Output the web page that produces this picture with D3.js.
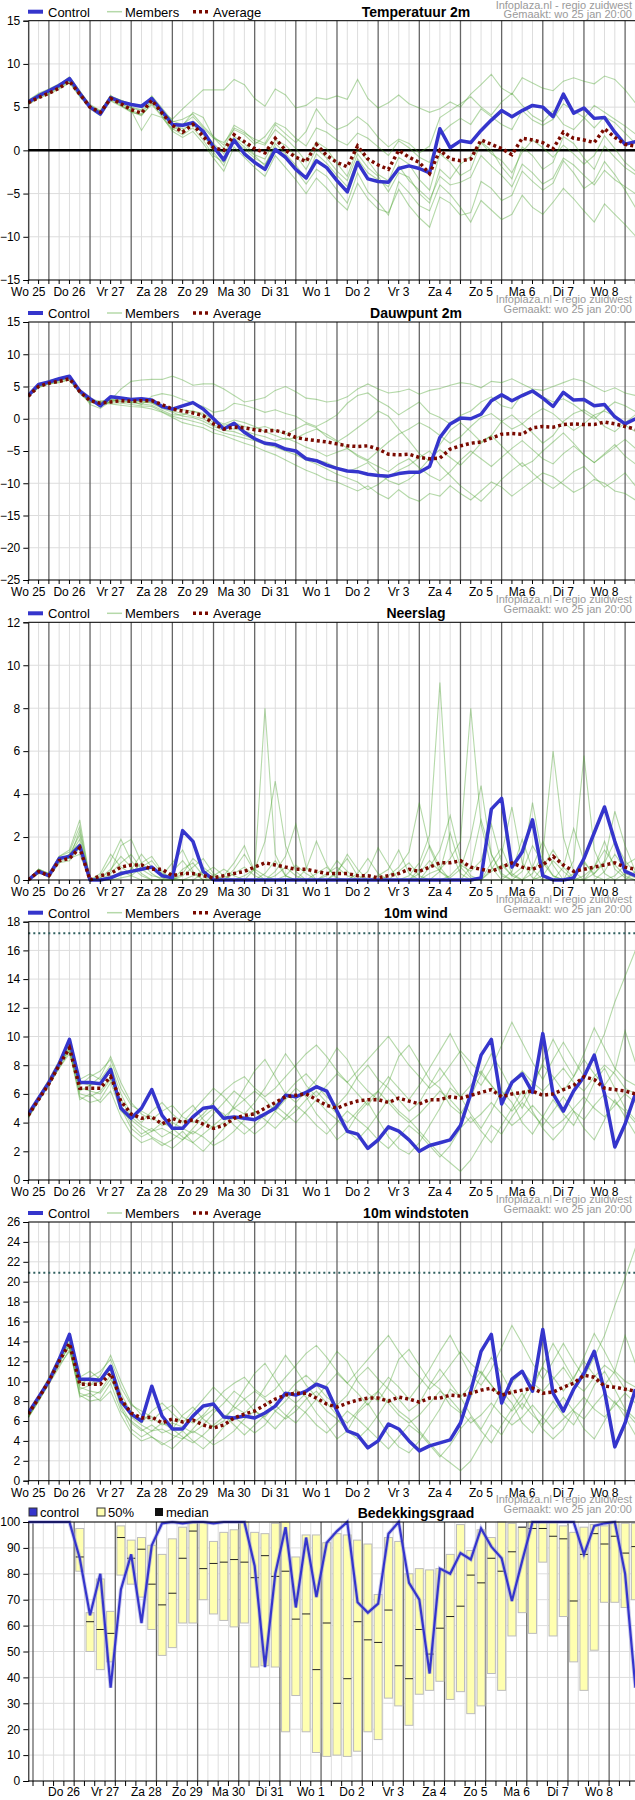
<!DOCTYPE html>
<html>
<head>
<meta charset="utf-8">
<script src="https://cdn.jsdelivr.net/npm/d3@7"></script>
<style>
  body { margin: 0; background: #fff; }
  svg { display: block; font-family: "Liberation Sans", Arial, sans-serif; }
</style>
</head>
<body>
<div id="chart"></div>
<script>
// day labels
const dayLabels = ["Wo 25", "Do 26", "Vr 27", "Za 28", "Zo 29", "Ma 30", "Di 31", "Wo 1", "Do 2", "Vr 3", "Za 4", "Zo 5", "Ma 6", "Di 7", "Wo 8"];

/* Temperatuur 2m */
const tempControl = [5.6,6.3,6.9,7.5,8.3,6.6,5.0,4.2,6.1,5.6,5.3,5.1,6.0,4.5,3.0,2.9,3.2,2.2,0.4,-1.1,1.2,-0.4,-1.4,-2.2,0.1,-0.8,-2.2,-3.2,-1.2,-2.0,-3.5,-4.8,-1.4,-3.3,-3.6,-3.7,-2.1,-1.8,-2.1,-2.6,2.5,0.3,1.1,0.9,2.3,3.5,4.6,3.9,4.6,5.2,5.0,3.9,6.5,4.3,4.9,3.7,3.8,2.1,0.7,1.0];
const tempAverage = [5.5,6.1,6.6,7.2,8.0,6.5,5.0,4.4,6.0,5.4,4.7,4.3,5.8,4.3,2.9,2.1,3.0,1.6,0.3,0.0,1.8,1.0,0.2,-0.3,1.4,0.0,-0.8,-1.3,0.7,-0.6,-1.4,-1.9,0.5,-1.0,-1.7,-2.2,0.0,-0.8,-1.4,-2.7,0.0,-1.0,-1.2,-1.0,1.2,0.7,0.2,-0.5,1.4,1.2,0.9,0.2,2.1,1.4,1.2,0.9,2.5,1.5,0.7,0.5];
const tempMembers = [
  [5.4,6.2,6.8,7.3,8.0,6.4,4.9,4.3,5.9,5.4,4.9,4.6,5.6,4.4,3.6,4.8,5.9,7.0,7.0,7.0,8.2,7.6,6.0,5.1,7.1,6.4,4.9,5.2,6.1,5.9,6.3,5.9,8.2,6.0,4.9,5.5,6.4,5.4,4.9,4.4,4.8,5.6,5.0,6.5,7.6,8.8,7.2,6.5,8.4,7.8,7.2,6.9,8.0,8.4,8.0,7.7,8.6,8.2,7.0,5.5],
  [5.7,6.5,7.0,7.6,8.5,6.9,5.2,4.5,6.4,5.2,4.6,2.3,4.2,3.8,2.4,2.9,4.4,3.8,1.5,0.2,2.6,2.0,1.3,0.8,3.0,1.9,0.9,2.2,4.8,3.2,2.4,2.9,3.9,3.0,1.5,0.4,1.3,0.8,-0.3,0.5,3.8,4.6,5.4,6.2,5.0,4.1,5.6,6.6,5.2,4.0,3.3,4.6,3.0,2.4,3.7,5.2,4.4,3.6,2.8,1.9],
  [5.3,6.0,6.5,7.1,7.8,6.2,4.8,4.0,5.7,5.1,4.4,4.1,5.3,3.9,2.2,1.5,2.2,0.8,-0.9,-2.4,0.4,-0.8,-2.0,-3.0,-0.6,-2.0,-3.4,-5.0,-3.2,-4.4,-5.8,-6.9,-3.8,-5.6,-6.8,-7.2,-4.5,-6.4,-7.8,-8.9,-5.4,-6.1,-7.5,-7.2,-3.6,-4.4,-5.8,-5.2,-2.4,-3.6,-4.6,-3.8,-1.2,-2.6,-4.4,-3.6,-1.3,-2.8,-4.6,-6.6],
  [5.8,6.6,7.1,7.7,8.2,6.8,5.3,4.6,6.3,5.8,5.3,5.0,6.2,4.6,3.3,3.6,4.2,2.8,1.6,0.6,2.9,2.2,1.0,0.6,2.4,1.4,0.2,-1.3,1.0,0.2,-1.5,-3.0,0.2,-1.2,-2.8,-3.5,-0.8,-1.6,-3.4,-4.6,-0.4,-1.4,-2.9,-2.2,1.0,0.0,-1.9,-3.3,0.4,-0.6,-2.2,-1.4,1.6,0.8,-0.9,-2.2,0.5,-0.8,-2.0,-2.8],
  [5.5,6.3,6.7,7.4,8.1,6.6,5.1,4.3,6.0,5.5,4.6,4.2,5.9,4.2,2.8,2.2,3.4,1.9,-0.2,-1.8,1.4,0.4,-0.6,-1.8,0.8,-0.4,-1.7,-3.3,-0.4,-1.5,-2.9,-4.2,-1.0,-2.6,-3.4,-4.2,-1.8,-3.5,-4.6,-5.7,-3.0,-4.0,-3.7,-3.1,-0.6,-1.8,-2.9,-4.2,-1.6,-2.6,-3.9,-3.2,-0.9,-1.7,-2.9,-4.0,-2.3,-3.4,-4.2,-5.0],
  [5.6,6.2,6.8,7.3,8.2,6.4,4.9,4.2,5.8,5.2,4.5,4.0,5.5,4.0,2.5,1.8,2.6,1.2,-0.6,-1.4,1.0,0.2,-0.9,-1.6,0.4,-1.0,-2.3,-3.9,-2.2,-3.0,-4.6,-6.1,-2.6,-4.8,-6.0,-7.5,-3.6,-4.9,-6.4,-7.0,-4.0,-5.1,-6.6,-8.3,-5.8,-6.9,-8.0,-7.4,-5.2,-6.6,-7.4,-6.0,-4.4,-5.6,-7.0,-8.3,-6.2,-7.4,-8.6,-9.9],
  [5.4,6.1,6.6,7.2,7.9,6.3,5.0,4.4,6.2,5.6,5.0,4.7,6.3,4.9,3.4,3.0,3.9,2.6,1.4,0.9,2.4,1.8,0.7,1.6,3.2,2.6,1.4,0.5,2.6,2.1,1.2,0.6,2.0,1.4,0.4,-0.6,1.1,0.3,-0.8,-1.4,1.8,2.9,3.7,3.0,4.8,3.9,3.0,2.4,4.6,3.5,2.9,3.6,5.4,4.6,3.8,2.6,3.9,3.2,2.0,0.8],
  [5.7,6.4,6.9,7.6,8.4,6.7,5.1,4.5,6.2,5.8,5.4,5.2,6.1,4.7,3.1,2.5,2.9,2.0,0.8,-0.4,1.6,0.8,-0.5,-1.0,1.2,0.6,-0.6,-2.2,0.2,-0.9,-2.4,-3.5,-0.4,-2.0,-3.0,-4.8,-2.6,-3.1,-5.0,-6.1,-2.2,-3.3,-1.6,-0.7,0.9,-0.4,-1.2,-2.6,-0.2,1.2,0.3,-0.8,0.6,-0.4,-1.6,-0.6,1.7,0.2,-1.4,-2.4]
];

/* Dauwpunt 2m */
const dewControl = [3.6,5.3,5.7,6.2,6.6,4.3,3.1,2.0,3.4,3.2,3.0,3.1,2.9,1.9,1.5,2.0,2.5,1.5,0.0,-1.6,-0.7,-2.1,-3.1,-3.8,-4.0,-4.7,-5.0,-6.2,-6.5,-7.2,-7.7,-8.1,-8.2,-8.6,-8.8,-8.9,-8.5,-8.3,-8.3,-7.4,-2.9,-0.8,0.1,0.0,0.7,2.8,3.7,2.8,3.6,4.3,3.2,1.9,4.1,2.9,3.0,2.0,2.2,0.3,-0.8,0.0];
const dewAverage = [3.5,5.0,5.5,5.8,6.2,4.2,2.8,2.4,2.6,2.8,2.7,2.8,2.8,2.2,1.5,1.2,0.9,0.5,-0.8,-1.6,-1.3,-1.4,-1.7,-1.9,-1.8,-2.2,-2.9,-3.2,-3.4,-3.6,-3.9,-4.2,-4.3,-4.2,-4.7,-5.5,-5.6,-5.5,-6.0,-6.2,-6.1,-4.7,-4.2,-3.8,-3.6,-3.0,-2.4,-2.3,-2.4,-1.4,-1.2,-1.3,-0.9,-0.8,-0.9,-0.9,-0.5,-0.8,-1.2,-1.6];
const dewMembers = [
  [3.4,5.1,5.6,6.0,6.4,4.4,2.9,2.5,2.9,4.6,5.8,6.0,6.1,6.1,6.6,6.0,5.2,5.4,5.4,4.6,3.6,2.6,2.9,3.3,4.4,5.0,4.2,3.2,3.0,2.6,2.8,3.4,4.6,5.4,4.6,4.0,4.2,4.6,3.8,4.4,4.7,5.2,5.6,5.4,4.8,5.8,5.6,6.2,5.4,4.6,4.4,5.0,5.6,6.2,5.8,5.0,4.2,4.8,4.0,3.6],
  [3.7,5.2,5.8,6.1,6.5,4.6,3.0,2.2,2.6,3.3,2.8,2.2,3.5,3.9,3.6,3.0,2.4,1.9,1.0,1.3,2.4,2.1,1.6,1.0,1.4,0.8,0.4,-0.6,-1.2,-0.4,0.6,2.4,3.6,4.0,2.8,1.9,0.6,1.6,2.6,0.9,0.2,-0.8,0.5,1.2,2.6,3.4,2.0,1.6,3.8,4.5,3.4,2.6,3.1,2.2,1.0,0.0,1.4,2.6,2.0,1.1],
  [3.5,4.9,5.4,5.7,6.0,3.9,2.5,2.4,2.3,2.1,1.9,1.8,1.5,1.0,0.2,-0.6,-1.0,-1.4,-2.2,-2.6,-3.2,-3.8,-4.3,-5.0,-5.6,-6.4,-7.2,-8.0,-8.6,-9.4,-9.8,-10.5,-11.2,-10.4,-11.6,-12.4,-11.0,-12.2,-12.8,-11.6,-12.0,-10.4,-11.6,-12.6,-11.2,-9.8,-10.6,-12.0,-10.8,-9.6,-8.4,-9.0,-10.2,-11.4,-10.6,-9.4,-10.0,-11.2,-11.6,-12.6],
  [3.6,5.0,5.5,5.9,6.3,4.0,2.6,2.8,2.9,3.2,3.0,2.6,2.4,1.6,1.0,0.4,0.2,-0.4,-1.2,-1.8,-2.0,-2.6,-3.2,-3.6,-4.2,-4.6,-5.2,-6.0,-6.4,-6.8,-7.6,-8.2,-7.6,-6.8,-8.4,-9.6,-10.2,-9.4,-8.0,-6.2,-4.8,-6.0,-7.2,-5.6,-3.8,-2.6,-4.2,-5.8,-7.4,-6.6,-5.0,-3.6,-2.2,-3.8,-5.6,-6.8,-5.4,-4.0,-5.8,-7.0],
  [3.8,5.4,5.9,6.3,6.7,4.5,2.2,1.6,2.7,2.9,2.5,2.3,2.1,1.3,0.6,0.6,1.2,0.5,-0.6,-1.0,-0.6,-1.2,-1.5,-1.2,-1.8,-2.4,-1.6,-0.8,-1.4,-2.8,-3.6,-2.6,-1.4,-0.2,1.2,0.4,-1.6,-3.4,-5.4,-6.6,-4.0,-1.8,-0.6,-2.0,-3.6,-2.6,-0.4,0.6,-0.8,-2.2,-3.8,-2.6,-0.4,0.8,1.4,0.4,-1.2,-2.0,-0.6,0.6],
  [3.4,4.8,5.4,5.6,6.1,4.1,2.7,2.6,2.5,2.4,2.2,2.0,1.9,1.1,0.4,0.0,-0.4,-0.8,-1.6,-2.2,-2.6,-3.0,-3.4,-4.0,-4.4,-5.0,-5.6,-6.4,-7.0,-7.8,-8.6,-9.2,-9.8,-11.0,-10.2,-9.0,-8.0,-7.2,-6.0,-5.0,-7.2,-8.8,-10.4,-11.6,-12.8,-11.2,-9.4,-8.0,-6.8,-8.4,-9.8,-10.8,-9.6,-8.2,-7.4,-9.0,-10.6,-9.6,-8.4,-10.4],
  [3.6,5.2,5.6,6.0,6.5,4.3,3.2,2.6,3.0,2.7,2.8,2.9,2.6,2.0,1.6,1.4,1.2,0.8,-0.2,-0.8,-0.2,-0.6,-1.2,-2.0,-2.6,-3.2,-3.0,-2.2,-1.6,-2.4,-3.4,-4.6,-5.6,-6.4,-5.0,-3.6,-2.4,-1.6,-0.6,-1.4,-2.6,-3.8,-2.8,-1.2,0.2,0.8,-0.4,-1.6,-0.8,0.6,1.6,0.8,-0.6,-1.8,-0.8,0.6,1.2,0.4,-1.0,-2.0],
  [3.5,5.0,5.6,5.9,6.4,4.2,2.9,2.1,2.8,2.6,2.5,2.7,2.5,1.8,1.2,0.8,0.4,0.0,-1.0,-1.4,-1.6,-1.9,-2.4,-2.8,-3.4,-3.0,-3.6,-4.4,-5.0,-5.8,-5.2,-4.6,-5.8,-6.6,-7.4,-8.2,-7.0,-6.2,-7.6,-8.8,-9.6,-8.2,-6.4,-5.0,-6.2,-7.4,-6.0,-4.6,-3.4,-4.8,-6.2,-7.0,-5.4,-4.2,-5.6,-6.8,-5.6,-4.4,-3.2,-4.6]
];

/* Neerslag */
const rainControl = [0,0.4,0.2,1.0,1.1,1.6,0,0,0.1,0.3,0.4,0.5,0.6,0.2,0.1,2.3,1.8,0.4,0,0,0,0,0,0,0,0,0,0,0,0,0,0,0,0,0,0,0,0,0,0,0,0,0,0,0.1,3.3,3.8,0.6,1.3,2.8,0.2,0,0,0.1,1.0,2.2,3.4,1.8,0.4,0.2];
const rainAverage = [0,0.4,0.2,0.9,1.0,1.5,0,0.2,0.3,0.6,0.7,0.7,0.5,0.5,0.2,0.3,0.3,0.2,0.1,0.2,0.3,0.4,0.6,0.8,0.7,0.6,0.5,0.5,0.4,0.3,0.3,0.3,0.2,0.2,0.1,0.2,0.3,0.5,0.4,0.6,0.8,0.8,0.9,0.6,0.5,0.4,0.6,0.8,0.6,0.5,0.7,1.1,0.7,0.4,0.5,0.6,0.7,0.8,0.6,0.5];
const rainMembers = [
  [0,0.5,0.3,1.1,1.3,2.5,0,0.1,0.5,1.1,0.6,0.2,0,0,0.4,0.9,0.3,0,0,0.2,0.8,1.6,0.4,8.0,1.2,0.2,0,0,0.3,0.6,0.1,0,0,0,0.2,0.5,1.4,0.3,0,0,0.4,2.2,0.6,0.1,0,0.8,1.5,0.3,0,0,0.2,0.9,0.4,0,0,0.6,1.8,0.5,0.1,0],
  [0,0.4,0.2,0.9,1.2,2.1,0,0.3,1.2,0.6,0.3,0.8,1.1,0.4,0,0.2,0.6,1.0,0.3,0,0,0,0.5,1.8,4.6,1.6,0.4,0,0,0,0.3,1.2,0.5,0,0,0,0,0.2,0.8,2.1,9.2,1.4,0.3,0,0,0.5,1.2,3.4,0.8,0.1,0,0,0.6,2.4,0.9,0.2,0,0,0.3,0.1],
  [0,0.3,0.2,1.0,1.0,1.2,0,0.1,0.4,1.6,1.9,0.8,0.3,0,0,0,0,0.3,0.6,0.2,0,0,0,0,0.4,1.1,2.6,0.6,0,0,0,0,0,0.4,1.5,0.7,0,0,0,0.3,0.5,1.0,1.8,8.0,2.6,0.6,0,0,0,0.3,1.2,6.0,2.0,0.4,0,0,0,0.2,0.7,1.0],
  [0,0.5,0.3,0.8,0.9,1.5,0,0,0.2,0.2,0.5,1.2,0.6,0.2,0.8,1.4,0.4,0,0,0,0.3,0.6,0.2,0,0,0,0,0.5,1.8,0.7,0,0,0,0,0,0.2,0.6,1.3,3.6,1.5,0.4,0,0,0.6,2.8,1.2,0.3,0,0.4,1.6,0.8,0.2,0,0.9,5.8,1.4,0.3,0,0,0.4],
  [0,0.4,0.2,1.1,1.4,2.8,0,0,0.1,0.4,0.2,0,0,0,0,0.3,1.0,0.6,0.2,0,0,0.2,0.5,0.2,0,0,0,0,0,0.2,0.9,0.4,0,0,0,0,0,0,0,0.6,1.4,3.0,1.0,0.2,0,0,0,0.4,1.9,0.5,0,0,0,0.3,0.8,0.3,0.9,3.2,1.6,0.4],
  [0,0.4,0.1,0.8,1.1,1.9,0,0.2,0.9,1.9,0.9,0.3,0,0,0,0,0.2,0.4,0.1,0,0.5,1.2,0.4,0,0,0.2,0.7,0.3,0,0,0,0,0.3,1.0,0.3,0,0,0,0.3,0.9,0.4,0.1,0.5,2.0,4.4,1.2,0.2,0,0,0,0.6,1.4,0.6,0.1,0,0,0.4,1.2,0.5,0.2],
  [0,0.3,0.3,0.9,1.2,1.7,0,0,0,0.1,0.2,0.6,0.9,0.3,0.1,0,0,0,0.2,0.5,0.2,0,0,0,0.2,0.6,0.2,0,0,0,0.4,1.0,0.2,0,0,0,0.4,0.8,0.2,0,0,0.2,0.7,0.4,0.9,2.6,0.8,0.2,0,0.6,1.8,0.7,0,0,0.2,0.6,1.4,0.7,0.2,0],
  [0,0.5,0.2,1.0,1.0,2.3,0,0,0.3,0.8,1.2,0.5,0.2,0.1,0,0.5,0.8,0.2,0,0,0,0,0,0.3,0.9,0.2,0,0,0,0.3,0.6,0.2,0,0,0,0,0,0,0.5,1.6,0.6,0,0,0,0,0.4,0.7,0.2,0.6,3.6,1.0,0.2,0,0,0,0.3,0.8,1.8,0.9,0.3]
];

/* 10m wind */
const windControl = [4.6,5.7,6.8,8.1,9.8,6.8,6.8,6.7,7.7,5.0,4.3,5.0,6.3,4.5,3.6,3.6,4.4,5.0,5.1,4.3,4.4,4.3,4.2,4.6,5.0,5.9,5.8,6.1,6.5,6.2,4.8,3.4,3.2,2.2,2.8,3.7,3.4,2.8,2.0,2.4,2.6,2.8,3.8,6.0,8.7,9.8,5.3,6.8,7.4,6.1,10.2,6.0,4.8,6.2,7.2,8.7,6.0,2.3,3.9,6.0];
const windAverage = [4.5,5.6,6.7,8.0,9.2,6.4,6.4,6.4,7.2,5.5,4.6,4.3,4.4,3.9,4.3,4.0,4.2,3.9,3.6,3.8,4.3,4.5,4.6,5.0,5.4,5.8,5.9,6.0,5.6,5.2,5.0,5.3,5.5,5.6,5.6,5.4,5.7,5.5,5.3,5.6,5.6,5.8,5.7,5.9,6.1,6.3,5.8,6.0,6.1,6.2,5.9,6.0,6.3,6.6,7.2,7.0,6.4,6.3,6.2,6.0];
const windMembers = [
  [4.4,5.6,6.8,8.0,9.4,6.2,6.6,6.8,7.8,5.2,3.9,3.2,3.6,3.0,3.4,4.6,5.2,4.2,3.6,4.0,5.2,6.4,7.6,8.4,7.2,6.0,5.4,6.2,7.0,8.0,9.2,8.4,7.0,6.2,5.6,6.8,8.6,9.4,8.2,7.0,6.4,5.2,4.6,5.8,7.4,8.8,7.6,6.2,5.0,6.4,8.2,9.8,8.4,7.2,8.8,10.6,9.2,7.8,7.0,6.6],
  [4.6,5.8,6.9,8.2,9.0,5.6,6.0,5.4,6.2,4.4,3.2,2.6,2.9,2.4,2.8,3.4,2.6,2.0,2.8,3.6,4.4,3.8,3.2,3.8,4.8,5.6,6.4,5.8,4.6,3.8,2.8,3.4,4.6,5.4,4.2,3.0,2.2,1.8,2.6,3.8,5.0,6.4,5.8,4.6,3.6,4.8,6.2,5.4,4.0,3.2,4.4,5.6,4.6,3.8,5.2,6.8,7.8,6.4,5.0,4.2],
  [4.3,5.5,6.6,7.8,8.8,6.6,7.2,7.6,8.4,6.4,5.2,4.8,4.4,3.8,4.0,3.6,3.2,3.8,4.6,5.4,6.2,5.6,4.8,4.4,5.2,6.0,6.8,7.4,6.6,5.8,5.2,6.0,7.2,8.0,7.0,6.4,5.6,4.8,5.4,6.6,7.8,6.8,5.8,6.6,7.6,6.6,5.6,4.8,5.6,6.8,8.0,7.2,6.2,7.2,8.4,7.4,6.6,7.6,10.4,8.2],
  [4.5,5.7,6.7,7.9,9.2,5.8,5.4,5.6,6.8,4.8,4.2,3.6,3.0,2.6,2.2,2.8,3.4,3.0,2.4,2.8,3.4,4.2,4.8,4.2,3.6,4.4,5.2,4.6,3.8,3.2,4.0,4.8,4.2,3.6,2.8,2.2,3.0,3.8,3.2,2.4,1.6,2.4,3.6,4.4,3.4,2.6,3.8,5.0,6.2,4.8,3.6,2.8,3.6,4.8,3.6,2.8,4.2,5.6,4.4,3.2],
  [4.4,5.6,6.8,8.1,9.6,7.0,7.4,7.0,8.0,6.0,4.6,4.0,4.8,5.4,4.6,4.0,4.8,5.6,6.4,5.8,5.0,4.6,5.4,6.4,7.6,8.8,7.8,6.6,5.8,6.6,7.4,6.8,6.0,5.2,6.2,7.2,6.4,5.6,6.6,7.8,9.0,10.2,8.8,7.4,6.6,7.8,9.4,11.0,9.6,8.2,7.0,8.4,9.6,8.4,7.2,8.6,10.2,12.4,14.2,16.0],
  [4.6,5.8,7.0,8.3,9.4,6.4,6.2,6.0,7.0,5.6,4.4,3.8,3.4,3.6,3.2,2.8,3.6,4.4,5.0,4.6,3.8,3.2,3.8,4.6,5.2,4.6,4.0,4.8,5.6,4.8,4.2,3.4,2.8,3.6,4.6,5.6,4.8,4.2,3.4,2.6,1.8,1.2,0.6,1.4,2.6,3.8,3.2,4.4,5.4,4.6,3.8,4.8,5.8,4.8,4.2,5.2,6.0,5.4,4.8,4.0],
  [4.5,5.7,6.8,8.0,9.2,6.8,6.6,7.2,8.6,6.8,5.4,4.6,4.2,4.8,5.2,4.4,4.0,4.6,5.4,6.2,6.8,7.2,6.4,5.8,6.4,7.2,8.0,8.8,9.4,8.6,7.6,6.8,7.6,8.4,9.2,10.0,9.0,8.0,7.2,6.4,7.0,8.0,9.0,8.2,7.4,6.6,5.8,6.8,7.6,6.8,6.2,7.0,7.8,6.8,6.2,7.2,8.0,7.4,6.4,6.0],
  [4.4,5.5,6.6,7.8,9.0,6.0,5.8,6.2,7.2,5.0,3.6,3.0,3.4,4.0,3.6,3.0,2.6,3.2,3.8,4.4,5.0,5.6,6.2,5.6,4.8,4.2,4.8,5.6,6.2,5.4,4.6,4.0,4.8,5.6,6.2,5.4,4.6,4.0,4.6,5.4,6.2,5.6,4.8,4.0,4.6,5.4,4.6,3.8,4.4,5.2,4.4,3.6,4.2,5.0,5.8,5.0,4.4,5.2,6.0,5.4]
];
const windWarning = 17.2;

/* 10m windstoten */
const gustControl = [6.8,8.4,10.0,12.2,14.7,10.2,10.2,10.1,11.5,8.0,6.7,6.0,9.5,6.5,5.2,5.2,6.5,7.5,7.7,6.4,6.3,6.5,6.3,6.8,7.5,8.8,8.6,9.0,9.7,9.3,7.0,5.0,4.6,3.3,4.0,5.7,5.2,4.0,3.0,3.5,3.8,4.1,5.8,9.0,13.0,14.7,7.8,10.2,11.0,9.0,15.2,8.8,7.0,9.2,10.8,13.0,9.0,3.4,5.8,9.2];
const gustAverage = [6.7,8.3,10.0,12.0,13.8,9.7,9.7,9.7,10.8,8.2,6.8,6.3,6.4,5.8,6.2,5.9,6.1,5.6,5.3,5.6,6.3,6.7,7.0,7.6,8.2,8.6,8.8,8.8,8.3,7.7,7.4,7.8,8.1,8.3,8.3,8.0,8.4,8.2,7.9,8.3,8.3,8.6,8.5,8.8,9.1,9.3,8.6,8.9,9.1,9.3,8.8,8.9,9.4,9.8,10.6,10.4,9.5,9.4,9.2,9.0];
const gustMembers = [
  [6.4,8.2,10.0,12.2,13.8,9.2,9.6,10.0,11.2,7.6,5.8,5.0,5.6,4.8,5.2,6.6,7.4,6.2,5.4,6.0,7.6,9.2,10.8,11.8,10.2,8.6,7.8,8.8,10.0,11.4,13.0,12.0,10.0,8.8,8.0,9.6,12.2,13.2,11.6,10.0,9.2,7.6,6.8,8.4,10.6,12.4,10.8,8.8,7.2,9.2,11.6,13.8,12.0,10.2,12.4,14.8,13.0,11.0,10.0,9.4],
  [6.8,8.4,10.2,12.4,13.4,8.4,8.8,8.0,9.0,6.6,4.8,4.0,4.4,3.6,4.2,5.0,4.0,3.2,4.2,5.4,6.4,5.6,4.8,5.6,7.0,8.0,9.2,8.4,6.8,5.6,4.2,5.0,6.8,7.8,6.2,4.6,3.4,2.8,4.0,5.6,7.2,9.2,8.4,6.6,5.2,7.0,9.0,7.8,5.8,4.8,6.4,8.0,6.6,5.6,7.4,9.6,11.0,9.2,7.2,6.2],
  [6.3,8.0,9.8,11.6,13.0,9.6,10.4,11.0,12.2,9.4,7.6,7.0,6.4,5.6,5.8,5.4,4.8,5.6,6.8,7.8,9.0,8.2,7.0,6.4,7.6,8.6,9.8,10.6,9.6,8.4,7.6,8.6,10.4,11.4,10.2,9.2,8.2,7.0,7.8,9.6,11.2,9.8,8.4,9.6,11.0,9.6,8.2,7.0,8.2,9.8,11.4,10.4,9.0,10.4,12.0,10.6,9.6,11.0,14.6,11.8],
  [6.6,8.3,9.9,11.8,13.6,8.6,8.0,8.2,9.8,7.0,6.0,5.2,4.4,3.8,3.2,4.2,5.0,4.4,3.6,4.2,5.0,6.2,7.0,6.2,5.2,6.4,7.6,6.8,5.6,4.8,5.8,7.0,6.2,5.2,4.2,3.2,4.4,5.6,4.8,3.6,2.4,3.6,5.2,6.4,5.0,3.8,5.6,7.2,8.8,7.0,5.2,4.2,5.2,7.0,5.2,4.2,6.0,8.0,6.4,4.6],
  [6.4,8.2,10.0,12.0,14.2,10.4,11.0,10.2,11.6,8.8,6.8,5.8,7.0,7.8,6.8,5.8,7.0,8.2,9.4,8.4,7.4,6.8,7.8,9.4,11.0,12.6,11.2,9.6,8.4,9.6,10.8,9.8,8.8,7.6,9.0,10.4,9.4,8.2,9.6,11.2,13.0,14.6,12.6,10.6,9.6,11.2,13.4,15.6,13.8,11.8,10.2,12.0,13.8,12.0,10.4,12.4,14.6,17.6,20.4,23.4],
  [6.8,8.5,10.4,12.4,13.8,9.4,9.0,8.8,10.2,8.2,6.4,5.6,5.0,5.2,4.6,4.2,5.2,6.4,7.2,6.6,5.6,4.6,5.6,6.6,7.6,6.6,5.8,7.0,8.2,7.0,6.2,5.0,4.2,5.2,6.6,8.2,7.0,6.2,5.0,3.8,2.6,1.8,1.0,2.0,3.8,5.6,4.6,6.4,7.8,6.6,5.6,7.0,8.4,7.0,6.2,7.6,8.8,7.8,7.0,5.8],
  [6.6,8.3,10.0,11.8,13.6,10.0,9.6,10.6,12.6,10.0,7.8,6.6,6.0,7.0,7.6,6.4,5.8,6.6,7.8,9.0,9.8,10.4,9.2,8.4,9.2,10.4,11.6,12.8,13.6,12.4,11.0,9.8,11.0,12.2,13.4,14.6,13.0,11.6,10.4,9.2,10.2,11.6,13.0,11.8,10.8,9.6,8.4,9.8,11.0,9.8,9.0,10.2,11.4,9.8,9.0,10.4,11.6,10.8,9.2,8.8],
  [6.4,8.0,9.7,11.4,13.2,8.8,8.4,9.0,10.6,7.4,5.2,4.4,5.0,5.8,5.2,4.4,3.8,4.6,5.6,6.4,7.2,8.2,9.0,8.2,7.0,6.2,7.0,8.2,9.0,7.8,6.6,5.8,7.0,8.2,9.0,7.8,6.6,5.8,6.6,7.8,9.0,8.2,7.0,5.8,6.6,7.8,6.6,5.6,6.4,7.6,6.4,5.2,6.2,7.2,8.4,7.2,6.4,7.6,8.8,7.8]
];
const gustWarning = 20.9;

/* Bedekkingsgraad */
const cloudControl = [100,100,100,100,100,86,64,80,36,74,87.5,61,91,99.5,100,99.5,100,100,99.5,100,100,100,83,44,80,98,67,94,71,92,96.5,100,69,65,68.5,95.5,100,76.5,70,41.5,82,80,88,85.5,97.5,90.5,86,69.5,85,100,100,100,100,100,87.5,98.5,99.5,100,80,36];
// 25% / 75% / median per step, first five steps have no bar
const cloudLow = [null,null,null,null,null,81,50,43,46,79.5,76,71,58.5,48.5,51.5,61,61,70,64.5,62,59.5,61,44,44.5,44,19,33,19,11,9.5,10,9.5,11.5,19,16,32,29,21.5,33.5,35,38.5,31.5,34.5,26,29,41.5,35,56,65,57,84.5,56,63.5,46,35,50.5,69,69,67,70];
const cloudHigh = [null,null,null,null,null,97.5,65,78,65.5,98.5,93,94,91,87.5,93.5,98,99.5,100,92.5,96,97,100,96,95.5,99.5,100,86.5,95,95,92,95.5,95,93,91.5,72,94,92.5,80,82,81.5,82,87.5,99,89,97,94,100,99.5,98,100,100,100,98.5,96,98,99,98.5,100,99.5,99.5];
const cloudMedian = [null,null,null,null,null,86.5,61.5,58.5,57,94,86,89.5,76,68,72.5,86,96.5,82,84,84.5,85.5,84.5,78.5,87,79,81,62.5,64.5,43,61,30,39.5,61.5,54.5,53.5,66,44.5,39.5,58.5,49,59,63.5,67.5,79.5,76.5,86,81,88.5,98,97.5,97.5,94.5,93.5,69.5,87.5,95.5,91.5,94.5,88,90.5];

const width = 635, height = 1800;
const gridLight = "#dddddd", gridDark = "#666666";
const blue = "#3535cc", avgColor = "#7a0a00", memberColor = "rgba(70,160,40,0.4)";

const svg = d3.select("#chart").append("svg")
  .attr("width", width).attr("height", height)
  .style("background", "#fff");

const x = d3.scaleLinear().domain([0, 59]).range([28.3, 635.4]);
const steps = d3.range(60);

function header(top, first) {
  const g = svg.append("g").attr("fill", "#9a9a9a").attr("font-size", 11).attr("text-anchor", "end");
  g.append("text").attr("x", 632).attr("y", first ? 9 : top - 19).text("Infoplaza.nl - regio zuidwest");
  g.append("text").attr("x", 632).attr("y", first ? 18 : top - 9).text("Gemaakt: wo 25 jan 20:00");
}

function drawPanel(p) {
  const y = d3.scaleLinear().domain(p.domain).range([p.bottom, p.top]);
  const ticks = d3.range(p.domain[0], p.domain[1] + 0.001, p.step);
  const clipId = "clip" + p.id;
  svg.append("clipPath").attr("id", clipId)
    .append("rect").attr("x", 28).attr("y", p.top - 2).attr("width", 610).attr("height", p.bottom - p.top + 4);

  header(p.top, p.first);

  const g = svg.append("g");
  g.selectAll(".hg").data(ticks).join("line")
    .attr("x1", x(0)).attr("x2", width).attr("y1", d => y(d)).attr("y2", d => y(d))
    .attr("stroke", gridLight);
  g.selectAll(".vg").data(steps).join("line")
    .attr("x1", d => x(d)).attr("x2", d => x(d)).attr("y1", p.top).attr("y2", p.bottom)
    .attr("stroke", d => d % 4 === 2 ? gridDark : gridLight)
    .attr("stroke-width", d => d % 4 === 2 ? 1.3 : 1);

  if (p.warning !== undefined) {
    g.append("line").attr("x1", x(0)).attr("x2", width)
      .attr("y1", y(p.warning)).attr("y2", y(p.warning))
      .attr("stroke", "#2f5f5f").attr("stroke-width", 2).attr("stroke-dasharray", "2,3");
  }
  if (p.zeroLine) {
    g.append("line").attr("x1", x(0)).attr("x2", width)
      .attr("y1", y(0)).attr("y2", y(0)).attr("stroke", "#000").attr("stroke-width", 2.5);
  }

  const line = d3.line().x((d, i) => x(i)).y(d => y(d));
  const lines = svg.append("g").attr("clip-path", `url(#${clipId})`);
  lines.selectAll(".m").data(p.members).join("path")
    .attr("d", line).attr("fill", "none").attr("stroke", memberColor).attr("stroke-width", 1.1);
  lines.append("path").attr("d", line(p.control)).attr("fill", "none")
    .attr("stroke", blue).attr("stroke-width", 3.5).attr("stroke-linejoin", "round");
  lines.append("path").attr("d", line(p.average)).attr("fill", "none")
    .attr("stroke", avgColor).attr("stroke-width", 3.5).attr("stroke-dasharray", "3,3");

  // frame
  g.append("line").attr("x1", x(0)).attr("x2", width).attr("y1", p.top).attr("y2", p.top).attr("stroke", "#000");
  svg.append("line").attr("x1", x(0)).attr("x2", width).attr("y1", p.bottom).attr("y2", p.bottom).attr("stroke", "#000");

  // axes
  svg.append("g").attr("transform", `translate(${x(0)},0)`)
    .call(d3.axisLeft(y).tickValues(ticks).tickSize(5).tickFormat(d3.format("d")))
    .call(a => a.select(".domain").attr("stroke", "#000"))
    .call(a => a.selectAll("text").attr("font-size", 12).attr("fill", "#000").attr("font-family", "Liberation Sans, Arial, sans-serif"));
  svg.append("g").selectAll("line").data(steps).join("line")
    .attr("x1", d => x(d)).attr("x2", d => x(d)).attr("y1", p.bottom).attr("y2", p.bottom + 4).attr("stroke", "#000");
  svg.append("g").selectAll("text").data(dayLabels).join("text")
    .attr("x", (d, i) => Math.max(x(i * 4), 21)).attr("y", p.bottom + 16)
    .attr("text-anchor", "middle").attr("font-size", 12).text(d => d);

  // legend
  const ly = p.top - 9;
  const lg = svg.append("g").attr("font-size", 13);
  lg.append("line").attr("x1", 28).attr("x2", 43).attr("y1", ly).attr("y2", ly).attr("stroke", blue).attr("stroke-width", 4);
  lg.append("text").attr("x", 48).attr("y", ly + 5).text("Control");
  lg.append("line").attr("x1", 107).attr("x2", 122).attr("y1", ly).attr("y2", ly).attr("stroke", memberColor).attr("stroke-width", 1.5);
  lg.append("text").attr("x", 125).attr("y", ly + 5).text("Members");
  lg.append("line").attr("x1", 193).attr("x2", 208).attr("y1", ly).attr("y2", ly).attr("stroke", avgColor).attr("stroke-width", 3.5).attr("stroke-dasharray", "3,3");
  lg.append("text").attr("x", 213).attr("y", ly + 5).text("Average");
  svg.append("text").attr("x", 416).attr("y", p.top - 4).attr("text-anchor", "middle")
    .attr("font-size", 14).attr("font-weight", "bold").text(p.title);
}

const panels = [
  { id: 1, title: "Temperatuur 2m", domain: [-15, 15], step: 5, top: 20.7, bottom: 280, control: tempControl, average: tempAverage, members: tempMembers, zeroLine: true, first: true },
  { id: 2, title: "Dauwpunt 2m", domain: [-25, 15], step: 5, top: 322, bottom: 580, control: dewControl, average: dewAverage, members: dewMembers },
  { id: 3, title: "Neerslag", domain: [0, 12], step: 2, top: 622.3, bottom: 880, control: rainControl, average: rainAverage, members: rainMembers },
  { id: 4, title: "10m wind", domain: [0, 18], step: 2, top: 921.7, bottom: 1180, control: windControl, average: windAverage, members: windMembers, warning: windWarning },
  { id: 5, title: "10m windstoten", domain: [0, 26], step: 2, top: 1222, bottom: 1480.7, control: gustControl, average: gustAverage, members: gustMembers, warning: gustWarning }
];
panels.forEach(drawPanel);

/* cloud cover panel */
(function () {
  const top = 1522, bottom = 1781;
  const y = d3.scaleLinear().domain([0, 100]).range([bottom, top]);
  const ticks = d3.range(0, 101, 10);
  const gridX = d3.scaleLinear().domain([0, 59]).range([33, 640]);
  header(top, false);
  svg.append("clipPath").attr("id", "clip6")
    .append("rect").attr("x", 28).attr("y", top - 4).attr("width", 610).attr("height", bottom - top + 6);
  const g = svg.append("g");
  g.selectAll(".hg").data(ticks).join("line")
    .attr("x1", x(0)).attr("x2", width).attr("y1", d => y(d)).attr("y2", d => y(d)).attr("stroke", gridLight);
  g.selectAll(".vg").data(steps).join("line")
    .attr("x1", d => gridX(d)).attr("x2", d => gridX(d)).attr("y1", top).attr("y2", bottom)
    .attr("stroke", d => d % 4 === 0 ? gridDark : gridLight)
    .attr("stroke-width", d => d % 4 === 0 ? 1.3 : 1);

  const bars = svg.append("g").attr("clip-path", "url(#clip6)");
  const idx = steps.filter(i => cloudLow[i] !== null);
  bars.selectAll("rect").data(idx).join("rect")
    .attr("x", i => x(i) - 4).attr("width", 8)
    .attr("y", i => y(cloudHigh[i])).attr("height", i => y(cloudLow[i]) - y(cloudHigh[i]))
    .attr("fill", "#ffffb0").attr("stroke", "#bcbcbc").attr("stroke-width", 1);
  bars.selectAll(".med").data(idx).join("line")
    .attr("x1", i => x(i) - 4).attr("x2", i => x(i) + 4)
    .attr("y1", i => y(cloudMedian[i])).attr("y2", i => y(cloudMedian[i]))
    .attr("stroke", "#222").attr("stroke-width", 1);
  const line = d3.line().x((d, i) => x(i)).y(d => y(d));
  bars.append("path").attr("d", line(cloudControl)).attr("fill", "none")
    .attr("stroke", "#9a9ad8").attr("stroke-width", 4).attr("stroke-opacity", 0.5);
  bars.append("path").attr("d", line(cloudControl)).attr("fill", "none")
    .attr("stroke", blue).attr("stroke-width", 2.2);

  svg.append("line").attr("x1", x(0)).attr("x2", width).attr("y1", top).attr("y2", top).attr("stroke", "#000");
  svg.append("line").attr("x1", x(0)).attr("x2", width).attr("y1", bottom).attr("y2", bottom).attr("stroke", "#000");
  svg.append("g").attr("transform", `translate(${x(0)},0)`)
    .call(d3.axisLeft(y).tickValues(ticks).tickSize(5))
    .call(a => a.selectAll("text").attr("font-size", 12).attr("fill", "#000").attr("font-family", "Liberation Sans, Arial, sans-serif"));
  svg.append("g").selectAll("line").data(steps).join("line")
    .attr("x1", d => gridX(d)).attr("x2", d => gridX(d)).attr("y1", bottom).attr("y2", bottom + 5).attr("stroke", "#000");
  svg.append("g").selectAll("text").data(dayLabels.slice(1)).join("text")
    .attr("x", (d, i) => 64 + i * 41.15).attr("y", bottom + 15)
    .attr("text-anchor", "middle").attr("font-size", 12).text(d => d);

  const ly = top - 9;
  const lg = svg.append("g").attr("font-size", 13);
  lg.append("rect").attr("x", 29).attr("y", ly - 5).attr("width", 8).attr("height", 8).attr("fill", blue).attr("stroke", "#333");
  lg.append("text").attr("x", 40).attr("y", ly + 4).text("control");
  lg.append("rect").attr("x", 97).attr("y", ly - 5).attr("width", 8).attr("height", 8).attr("fill", "#ffffb0").attr("stroke", "#333");
  lg.append("text").attr("x", 108).attr("y", ly + 4).text("50%");
  lg.append("rect").attr("x", 155).attr("y", ly - 5).attr("width", 8).attr("height", 8).attr("fill", "#111");
  lg.append("text").attr("x", 166).attr("y", ly + 4).text("median");
  svg.append("text").attr("x", 416).attr("y", top - 4).attr("text-anchor", "middle")
    .attr("font-size", 14).attr("font-weight", "bold").text("Bedekkingsgraad");
})();
</script>
</body>
</html>
